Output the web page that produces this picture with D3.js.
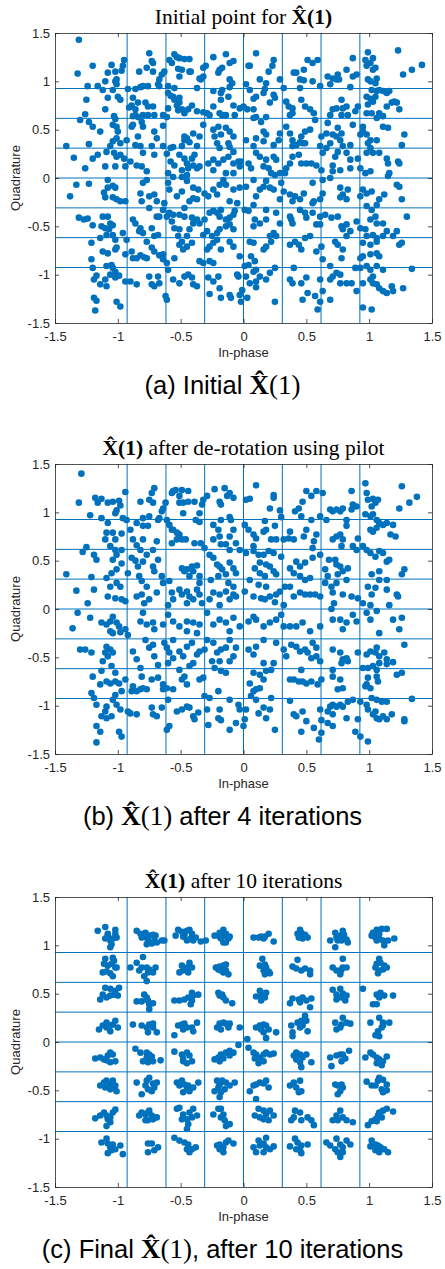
<!DOCTYPE html>
<html><head><meta charset="utf-8">
<script src="https://cdn.jsdelivr.net/npm/d3@7"></script>
<style>body{margin:0;background:#fff}svg{display:block}</style>
</head><body>
<svg id="fig" width="445" height="1269"></svg>
<script>
// Axis ticks and 64-QAM decision boundaries
const ticks = [-1.5, -1, -0.5, 0, 0.5, 1, 1.5];
const boundaries = [-0.926, -0.617, -0.309, 0, 0.309, 0.617, 0.926];

// (a) initial estimate: [in-phase, quadrature]
const pointsInitial = [
[-1.31,1.43],[-1.32,1.08],[-1.20,1.16],[-1.24,0.95],[-1.16,0.95],[-1.25,0.81],[-1.30,0.60],[-1.26,0.66],[-1.41,0.33],[-1.35,0.21],[-1.26,0.10],[-1.23,0.35],[-1.23,0.58],[-1.20,0.53],[-1.20,0.20],[-1.16,0.24],[-1.14,0.48],[-1.12,0.91],[-1.10,1.00],[-1.08,1.09],[-1.05,1.17],[-1.02,1.10],[-1.08,0.83],[-1.10,0.71],[-1.04,0.91],[-1.02,1.00],[-1.01,1.02],[-1.01,0.97],[-1.00,0.84],[-0.98,0.81],[-0.96,1.16],[-0.95,1.22],[-0.97,1.11],[-1.03,0.64],[-1.02,0.61],[-1.01,0.53],[-1.00,0.48],[-1.04,0.55],[-1.01,0.41],[-1.04,0.38],[-0.98,0.36],[-0.93,0.39],[-1.06,0.33],[-1.09,0.27],[-1.03,0.26],[-1.01,0.22],[-0.98,0.24],[-1.10,0.12],[-1.02,0.12],[-0.95,0.20],[-0.94,0.12],[-0.92,0.92],[-0.88,0.83],[-0.89,0.75],[-0.91,0.73],[-0.86,0.71],[-0.84,0.78],[-0.83,1.10],[-0.86,0.92],[-0.80,0.95],[-0.82,0.94],[-0.77,1.14],[-0.76,0.95],[-0.72,1.10],[-0.72,1.19],[-0.75,1.29],[-0.73,1.21],[-0.88,0.64],[-0.86,0.65],[-0.84,0.63],[-0.88,0.55],[-0.89,0.53],[-0.80,0.65],[-0.81,0.58],[-0.80,0.53],[-0.76,0.65],[-0.72,0.74],[-0.76,0.74],[-0.78,0.78],[-0.84,0.43],[-0.82,0.33],[-0.86,0.34],[-0.80,0.26],[-0.90,0.17],[-0.85,0.13],[-0.81,0.12],[-0.77,0.07],[-0.71,0.24],[-0.73,0.33],[-0.69,0.41],[-0.71,0.48],[-0.71,0.65],[-0.67,0.95],[-0.67,1.02],[-0.65,1.07],[-0.68,0.97],[-0.64,0.65],[-0.64,0.54],[-0.61,0.63],[-0.60,0.72],[-0.64,0.33],[-0.58,0.31],[-0.56,0.32],[-0.61,0.25],[-0.58,0.17],[-0.55,0.13],[-0.60,0.05],[-0.63,1.10],[-0.59,1.22],[-0.55,1.28],[-0.53,1.25],[-0.51,1.24],[-0.57,1.19],[-0.52,1.13],[-0.51,1.05],[-0.49,1.12],[-0.47,1.23],[-0.43,1.23],[-0.43,1.10],[-0.42,1.10],[-0.60,0.88],[-0.58,0.85],[-0.56,0.84],[-0.55,0.81],[-0.51,0.83],[-0.51,0.78],[-0.53,0.75],[-0.52,0.70],[-0.49,0.71],[-0.47,0.67],[-0.44,0.71],[-0.41,0.75],[-0.55,0.93],[-0.60,0.95],[-0.49,0.33],[-0.47,0.39],[-0.45,0.41],[-0.47,0.43],[-0.40,0.46],[-0.43,0.37],[-0.51,0.24],[-0.47,0.20],[-0.45,0.15],[-0.41,0.20],[-0.39,0.24],[-0.37,0.33],[-0.35,0.43],[-0.44,0.10],[-0.40,0.13],[-0.37,0.10],[-0.35,0.12],[-0.49,0.08],[-0.56,0.01],[-0.49,0.01],[-0.45,0.03],[-0.37,0.93],[-0.34,1.02],[-0.32,1.14],[-0.32,1.05],[-0.30,1.16],[-0.35,1.03],[-0.37,0.69],[-0.32,0.68],[-0.29,0.67],[-0.32,0.55],[-0.27,0.65],[-0.24,1.25],[-0.19,1.12],[-0.20,1.09],[-0.17,1.14],[-0.14,1.28],[-0.11,1.19],[-0.08,1.21],[-0.24,0.90],[-0.18,0.88],[-0.17,0.91],[-0.24,0.74],[-0.19,0.67],[-0.17,0.65],[-0.14,0.65],[-0.18,0.81],[-0.12,0.84],[-0.11,0.94],[-0.09,0.98],[-0.11,1.02],[-0.08,0.75],[-0.07,0.65],[-0.03,0.72],[-0.24,0.50],[-0.20,0.53],[-0.18,0.45],[-0.14,0.52],[-0.11,0.48],[-0.08,0.43],[-0.23,0.43],[-0.21,0.36],[-0.19,0.31],[-0.12,0.36],[-0.11,0.32],[-0.08,0.27],[-0.24,0.19],[-0.20,0.15],[-0.16,0.19],[-0.12,0.22],[-0.28,0.15],[-0.24,0.08],[-0.08,0.15],[-0.04,0.17],[-0.02,0.17],[-0.14,0.05],[-0.08,0.05],[-0.03,0.12],[0.02,0.97],[0.05,0.91],[0.08,0.82],[0.10,0.84],[0.10,1.29],[0.04,1.16],[0.05,1.16],[0.13,1.02],[0.16,0.88],[0.18,0.98],[0.20,1.10],[0.23,1.16],[0.24,1.22],[0.17,0.92],[0.24,0.86],[0.25,0.83],[0.21,0.78],[0.00,0.74],[0.03,0.71],[0.08,0.71],[0.10,0.63],[0.08,0.62],[0.14,0.58],[0.18,0.63],[0.16,0.48],[0.18,0.45],[0.10,0.41],[0.16,0.38],[0.08,0.33],[0.02,0.39],[0.10,0.26],[0.13,0.22],[0.18,0.19],[0.16,0.12],[0.20,0.10],[0.24,0.22],[0.26,0.19],[0.22,0.05],[0.25,0.03],[0.29,0.05],[0.04,0.15],[0.06,0.10],[0.28,0.39],[0.24,0.34],[0.29,0.46],[0.29,1.02],[0.32,0.93],[0.34,0.79],[0.36,0.74],[0.39,0.72],[0.40,1.09],[0.42,1.09],[0.45,1.02],[0.48,1.12],[0.48,1.01],[0.51,1.22],[0.55,1.19],[0.59,1.22],[0.55,1.00],[0.61,0.95],[0.37,0.65],[0.39,0.67],[0.45,0.93],[0.46,0.81],[0.49,0.74],[0.53,0.71],[0.56,0.67],[0.57,0.60],[0.34,0.53],[0.37,0.46],[0.39,0.39],[0.39,0.33],[0.42,0.34],[0.45,0.37],[0.47,0.36],[0.49,0.36],[0.46,0.43],[0.49,0.48],[0.53,0.50],[0.44,0.24],[0.46,0.15],[0.50,0.15],[0.54,0.15],[0.58,0.13],[0.39,0.22],[0.37,0.15],[0.34,0.10],[0.33,0.05],[0.62,0.08],[0.63,0.26],[0.62,0.43],[0.61,0.33],[0.66,0.31],[0.69,0.36],[0.67,0.57],[0.66,0.46],[0.71,0.45],[0.74,0.43],[0.75,0.52],[0.77,0.39],[0.78,0.46],[0.79,0.33],[0.75,0.27],[0.82,0.26],[0.85,0.34],[0.69,0.65],[0.71,0.71],[0.74,0.72],[0.78,0.65],[0.79,0.72],[0.78,0.81],[0.82,0.74],[0.83,0.65],[0.87,0.55],[0.67,1.05],[0.69,0.97],[0.71,1.03],[0.74,1.02],[0.75,1.07],[0.76,1.02],[0.82,1.12],[0.85,0.94],[0.87,1.24],[0.87,1.05],[0.90,1.07],[0.91,0.74],[0.89,0.69],[0.95,0.53],[0.95,0.48],[0.93,0.45],[0.98,0.45],[0.99,0.36],[1.01,0.31],[0.98,0.26],[1.03,0.26],[1.08,0.26],[1.01,0.39],[1.06,0.39],[0.97,1.22],[0.99,1.30],[0.98,1.16],[1.01,1.19],[1.03,1.24],[1.03,1.12],[1.05,1.14],[0.99,1.02],[1.01,1.00],[1.05,0.98],[1.06,1.03],[0.98,0.84],[1.01,0.82],[1.02,0.91],[1.06,0.90],[1.08,0.91],[1.11,0.90],[1.14,0.88],[1.16,0.90],[1.05,0.84],[1.03,0.79],[0.99,0.76],[0.98,0.67],[1.02,0.67],[1.06,0.62],[1.11,0.64],[1.14,0.74],[1.08,0.67],[1.11,0.53],[1.15,0.52],[1.18,0.78],[1.22,0.78],[1.24,0.71],[1.20,0.79],[1.23,1.32],[1.27,1.07],[1.34,1.12],[1.42,1.17],[1.28,0.45],[1.26,0.34],[1.23,0.17],[1.24,0.15],[1.14,0.20],[1.15,0.15],[1.01,0.07],[0.93,0.10],[0.97,0.05],[0.85,0.10],[0.77,0.08],[0.71,0.13],[0.71,0.07],[0.91,0.20],[0.85,0.19],[0.73,0.22],[1.16,0.05],
[-1.38,-0.19],[-1.33,-0.07],[-1.23,-0.06],[-1.31,-0.41],[-1.27,-0.43],[-1.24,-0.42],[-1.20,-0.49],[-1.21,-0.67],[-1.21,-0.84],[-1.20,-0.93],[-1.19,-1.05],[-1.17,-1.01],[-1.19,-1.24],[-1.17,-1.27],[-1.18,-1.37],[-1.14,-0.62],[-1.13,-0.50],[-1.12,-0.40],[-1.10,-0.52],[-1.10,-0.20],[-1.11,-0.15],[-1.08,-0.10],[-1.08,-0.02],[-1.04,-0.08],[-1.02,-0.10],[-1.04,-0.20],[-1.01,-0.22],[-0.98,-0.24],[-0.94,-0.24],[-1.08,-0.40],[-1.06,-0.47],[-1.04,-0.49],[-1.07,-0.53],[-1.09,-0.59],[-1.04,-0.59],[-1.02,-0.64],[-1.12,-0.76],[-1.08,-0.78],[-1.02,-0.74],[-1.01,-0.72],[-1.09,-0.91],[-1.05,-0.90],[-1.04,-0.93],[-1.02,-0.97],[-1.06,-1.00],[-1.10,-1.05],[-1.14,-1.10],[-1.09,-1.12],[-1.02,-1.03],[-0.99,-1.01],[-1.01,-1.28],[-0.98,-1.33],[-0.94,-0.79],[-0.94,-1.07],[-0.90,-1.07],[-0.85,-1.10],[-0.96,-0.57],[-0.93,-0.64],[-0.89,-0.76],[-0.88,-0.83],[-0.85,-0.83],[-0.82,-0.80],[-0.79,-0.82],[-0.77,-0.83],[-0.86,-0.47],[-0.83,-0.55],[-0.82,-0.52],[-0.80,-0.57],[-0.77,-0.66],[-0.88,-0.43],[-0.81,-0.24],[-0.82,-0.16],[-0.80,-0.05],[-0.77,-0.02],[-0.75,-0.19],[-0.71,-0.17],[-0.69,-0.24],[-0.75,-0.31],[-0.69,-0.40],[-0.67,-0.40],[-0.73,-0.52],[-0.71,-0.60],[-0.68,-0.59],[-0.73,-0.72],[-0.71,-0.76],[-0.67,-0.80],[-0.64,-0.84],[-0.61,-0.88],[-0.60,-0.95],[-0.64,-0.79],[-0.75,-1.02],[-0.73,-1.10],[-0.71,-1.12],[-0.68,-1.02],[-0.67,-1.09],[-0.62,-1.22],[-0.61,-1.26],[-0.63,-0.26],[-0.64,-0.33],[-0.61,-0.40],[-0.59,-0.36],[-0.56,-0.38],[-0.57,-0.45],[-0.55,-0.52],[-0.51,-0.53],[-0.52,-0.60],[-0.49,-0.66],[-0.51,-0.69],[-0.55,-0.83],[-0.48,-0.74],[-0.45,-0.71],[-0.41,-0.67],[-0.45,-0.60],[-0.43,-0.53],[-0.40,-0.47],[-0.41,-0.41],[-0.37,-0.43],[-0.35,-0.47],[-0.47,-0.40],[-0.51,-0.38],[-0.47,-0.31],[-0.43,-0.24],[-0.40,-0.21],[-0.37,-0.22],[-0.36,-0.12],[-0.40,-0.10],[-0.45,-0.03],[-0.49,-0.14],[-0.53,-0.19],[-0.59,-0.12],[-0.60,-0.05],[-0.56,-1.05],[-0.51,-1.09],[-0.47,-1.02],[-0.44,-1.00],[-0.41,-1.03],[-0.40,-1.10],[-0.37,-1.12],[-0.35,-0.86],[-0.32,-0.88],[-0.29,-0.74],[-0.27,-0.71],[-0.24,-0.67],[-0.32,-0.59],[-0.29,-0.55],[-0.25,-0.60],[-0.21,-0.57],[-0.19,-0.53],[-0.21,-0.64],[-0.31,-0.43],[-0.27,-0.36],[-0.24,-0.34],[-0.21,-0.36],[-0.19,-0.40],[-0.18,-0.33],[-0.14,-0.43],[-0.11,-0.41],[-0.08,-0.38],[-0.07,-0.34],[-0.05,-0.26],[-0.11,-0.24],[-0.14,-0.50],[-0.11,-0.48],[-0.08,-0.53],[-0.11,-0.66],[-0.08,-0.71],[-0.18,-0.74],[-0.21,-0.17],[-0.24,-0.12],[-0.28,-0.19],[-0.31,-0.16],[-0.19,-0.07],[-0.14,-0.07],[-0.08,-0.12],[-0.03,-0.10],[-0.16,-0.02],[-0.27,-0.86],[-0.24,-0.88],[-0.28,-1.03],[-0.24,-1.07],[-0.20,-1.02],[-0.19,-1.14],[-0.27,-1.20],[-0.18,-1.24],[-0.11,-1.21],[-0.10,-1.24],[-0.05,-1.00],[-0.04,-1.02],[-0.03,-1.21],[-0.02,-1.28],[-0.01,-1.16],[-0.03,-0.81],[0.01,-0.91],[0.04,-0.90],[0.05,-0.66],[0.08,-0.67],[0.06,-0.81],[0.09,-0.86],[0.10,-0.95],[0.08,-0.97],[0.02,-1.02],[0.05,-1.09],[0.10,-1.07],[0.13,-1.02],[0.10,-1.13],[0.03,-1.24],[0.18,-1.05],[0.21,-0.98],[0.25,-0.93],[0.25,-1.28],[0.16,-0.74],[0.18,-0.71],[0.22,-0.66],[0.24,-0.57],[0.21,-0.60],[0.26,-0.60],[0.13,-0.47],[0.09,-0.43],[0.04,-0.34],[0.01,-0.33],[0.08,-0.28],[0.10,-0.19],[0.13,-0.12],[0.18,-0.03],[0.16,-0.09],[0.21,-0.10],[0.24,-0.12],[0.30,-0.05],[0.32,-0.14],[0.29,-0.22],[0.18,-0.33],[0.26,-0.36],[0.18,-0.43],[0.08,-0.50],[0.29,-0.47],[0.08,-0.02],[0.02,-0.09],[0.37,-0.17],[0.39,-0.24],[0.41,-0.19],[0.45,-0.22],[0.48,-0.16],[0.38,-0.43],[0.39,-0.47],[0.37,-0.40],[0.45,-0.33],[0.49,-0.36],[0.50,-0.41],[0.55,-0.26],[0.56,-0.24],[0.61,-0.22],[0.63,-0.16],[0.55,-0.05],[0.69,0.00],[0.63,-0.02],[0.37,-0.69],[0.41,-0.66],[0.44,-0.69],[0.46,-0.74],[0.49,-0.62],[0.53,-0.60],[0.58,-0.48],[0.61,-0.48],[0.55,-0.36],[0.61,-0.40],[0.65,-0.38],[0.70,-0.41],[0.40,-0.93],[0.37,-1.05],[0.39,-1.09],[0.46,-1.09],[0.50,-1.03],[0.51,-1.19],[0.47,-1.26],[0.57,-1.22],[0.59,-1.36],[0.61,-1.28],[0.63,-1.17],[0.61,-1.05],[0.62,-0.71],[0.58,-0.76],[0.63,-0.84],[0.69,-0.91],[0.69,-1.26],[0.69,-1.05],[0.71,-1.02],[0.74,-0.98],[0.77,-1.00],[0.77,-1.09],[0.82,-1.09],[0.86,-1.09],[0.90,-1.17],[0.89,-0.93],[0.93,-0.93],[0.78,-0.83],[0.79,-0.74],[0.75,-0.69],[0.73,-0.66],[0.82,-0.60],[0.85,-0.55],[0.79,-0.53],[0.78,-0.50],[0.82,-0.48],[0.75,-0.40],[0.77,-0.10],[0.79,-0.17],[0.82,-0.22],[0.77,-0.20],[0.83,-0.12],[0.95,-0.12],[0.93,-0.19],[0.98,-0.16],[1.02,-0.14],[1.08,-0.22],[1.12,-0.17],[1.15,0.02],[1.22,-0.07],[1.24,-0.09],[1.26,-0.22],[0.98,-0.29],[1.02,-0.33],[1.01,-0.43],[1.06,-0.47],[1.11,-0.47],[0.90,-0.45],[0.93,-0.52],[0.97,-0.53],[0.98,-0.60],[1.03,-0.59],[1.06,-0.62],[1.11,-0.60],[1.14,-0.55],[1.22,-0.55],[1.19,-0.60],[1.24,-0.69],[1.26,-0.67],[1.05,-0.40],[1.06,-0.28],[0.95,-0.67],[1.01,-0.69],[1.06,-0.66],[0.93,-0.83],[0.95,-0.81],[1.01,-0.79],[1.06,-0.78],[1.08,-0.81],[0.98,-0.91],[1.01,-0.95],[1.06,-0.91],[1.11,-0.95],[0.95,-1.09],[1.01,-1.05],[1.03,-1.09],[1.06,-1.10],[1.08,-1.14],[1.11,-1.17],[1.14,-1.19],[1.18,-1.12],[1.19,-1.17],[1.03,-1.02],[0.95,-1.34],[1.02,-1.36],[1.27,-1.14],[1.34,-0.94],[1.30,-0.40]
];

// (b) after de-rotation with the pilot
const pointsDerotated = [
[-1.29,1.40],[-1.31,1.10],[-1.18,1.15],[-1.16,1.10],[-1.22,0.97],[-1.25,0.64],[-1.28,0.59],[-1.41,0.36],[-1.33,0.19],[-1.24,0.06],[-1.21,0.33],[-1.19,0.56],[-1.17,0.51],[-1.19,0.20],[-1.13,1.14],[-1.13,0.94],[-1.08,1.10],[-1.08,0.89],[-1.09,0.79],[-1.10,0.72],[-1.04,1.11],[-1.02,0.99],[-1.01,1.02],[-0.99,1.12],[-0.98,1.07],[-1.04,0.79],[-1.02,0.72],[-0.97,0.78],[-0.94,1.21],[-0.96,0.94],[-1.06,0.65],[-1.02,0.61],[-1.01,0.56],[-1.04,0.51],[-0.97,0.61],[-1.01,0.41],[-1.05,0.37],[-1.09,0.32],[-0.97,0.47],[-1.01,0.27],[-0.98,0.23],[-1.06,0.23],[-1.02,0.11],[-1.08,0.13],[-0.97,0.10],[-0.94,0.08],[-0.92,0.37],[-0.93,0.92],[-0.90,0.82],[-0.88,0.72],[-0.85,0.89],[-0.85,0.66],[-0.89,0.53],[-0.86,0.50],[-0.82,0.61],[-0.80,0.72],[-0.82,1.11],[-0.80,0.94],[-0.76,0.86],[-0.75,0.96],[-0.75,1.13],[-0.73,1.20],[-0.71,1.25],[-0.72,1.10],[-0.80,0.86],[-0.77,0.56],[-0.80,0.49],[-0.84,0.44],[-0.83,0.34],[-0.81,0.29],[-0.77,0.23],[-0.81,0.15],[-0.79,0.06],[-0.75,0.10],[-0.85,0.13],[-0.72,0.44],[-0.71,0.39],[-0.72,0.61],[-0.69,0.70],[-0.68,0.92],[-0.67,0.94],[-0.65,1.01],[-0.64,1.04],[-0.68,0.51],[-0.65,0.34],[-0.64,0.27],[-0.69,0.17],[-0.59,0.29],[-0.57,0.17],[-0.56,0.10],[-0.60,0.04],[-0.61,0.92],[-0.59,0.87],[-0.57,0.82],[-0.56,0.82],[-0.53,0.79],[-0.51,0.77],[-0.49,0.72],[-0.57,0.68],[-0.53,0.72],[-0.62,1.10],[-0.57,1.20],[-0.56,1.22],[-0.54,1.23],[-0.51,1.17],[-0.51,1.10],[-0.49,1.23],[-0.48,1.10],[-0.44,1.22],[-0.44,1.11],[-0.39,1.11],[-0.48,0.99],[-0.46,0.72],[-0.49,0.42],[-0.47,0.39],[-0.45,0.41],[-0.41,0.44],[-0.37,0.45],[-0.40,0.39],[-0.43,0.34],[-0.51,0.20],[-0.45,0.18],[-0.43,0.13],[-0.37,0.20],[-0.35,0.15],[-0.40,0.10],[-0.45,0.06],[-0.49,0.15],[-0.35,0.34],[-0.35,0.27],[-0.33,0.06],[-0.38,0.92],[-0.35,0.99],[-0.33,1.08],[-0.32,1.13],[-0.29,1.17],[-0.35,0.90],[-0.39,0.68],[-0.34,0.68],[-0.31,0.63],[-0.27,0.56],[-0.23,1.24],[-0.19,1.11],[-0.18,1.08],[-0.15,1.25],[-0.11,1.20],[-0.08,1.15],[-0.13,1.17],[-0.24,0.87],[-0.20,0.82],[-0.18,0.92],[-0.11,0.95],[-0.10,0.92],[-0.19,0.75],[-0.24,0.72],[-0.18,0.67],[-0.14,0.67],[-0.11,0.75],[-0.08,0.82],[-0.06,0.68],[-0.11,0.61],[-0.03,0.61],[-0.26,0.30],[-0.24,0.53],[-0.21,0.46],[-0.19,0.44],[-0.17,0.41],[-0.14,0.36],[-0.11,0.48],[-0.08,0.42],[-0.06,0.37],[-0.20,0.34],[-0.12,0.27],[-0.08,0.23],[-0.24,0.17],[-0.19,0.15],[-0.14,0.18],[-0.08,0.15],[-0.06,0.13],[-0.11,0.10],[-0.19,0.04],[-0.27,0.10],[0.01,0.87],[0.04,0.82],[0.08,0.77],[0.10,0.73],[0.02,1.13],[0.05,1.14],[0.10,1.28],[0.17,0.91],[0.21,1.04],[0.24,1.18],[0.24,1.15],[0.25,0.86],[0.29,1.02],[0.30,0.95],[0.16,0.80],[0.18,0.82],[0.22,0.72],[0.26,0.72],[0.32,0.72],[0.02,0.58],[0.08,0.65],[0.08,0.60],[0.12,0.56],[0.16,0.56],[0.20,0.60],[0.24,0.58],[0.30,0.54],[0.09,0.42],[0.13,0.48],[0.18,0.46],[0.21,0.44],[0.24,0.39],[0.13,0.37],[0.17,0.34],[0.26,0.36],[0.05,0.30],[0.12,0.25],[0.18,0.23],[0.08,0.13],[0.14,0.11],[0.17,0.10],[0.21,0.13],[0.26,0.15],[0.29,0.18],[0.25,0.07],[0.32,0.04],[0.01,0.18],[0.37,0.80],[0.36,0.73],[0.40,0.72],[0.41,1.01],[0.44,1.04],[0.47,1.11],[0.50,1.22],[0.54,1.17],[0.58,1.22],[0.63,1.20],[0.46,0.96],[0.50,0.82],[0.54,0.92],[0.61,0.96],[0.58,0.77],[0.56,0.70],[0.48,0.75],[0.55,0.63],[0.37,0.42],[0.40,0.37],[0.45,0.34],[0.49,0.30],[0.53,0.32],[0.42,0.49],[0.45,0.44],[0.49,0.48],[0.55,0.53],[0.61,0.56],[0.37,0.23],[0.40,0.13],[0.45,0.17],[0.49,0.15],[0.53,0.15],[0.57,0.15],[0.61,0.13],[0.33,0.23],[0.65,0.41],[0.67,0.34],[0.65,0.27],[0.70,0.23],[0.68,0.51],[0.73,0.51],[0.74,0.46],[0.77,0.44],[0.79,0.39],[0.83,0.42],[0.75,0.36],[0.82,0.30],[0.74,0.27],[0.79,0.15],[0.71,0.17],[0.86,0.13],[0.72,0.06],[0.70,0.00],[0.91,0.11],[0.95,0.06],[0.66,0.92],[0.69,1.03],[0.71,1.01],[0.74,1.03],[0.77,1.01],[0.79,1.04],[0.86,1.03],[0.87,1.08],[0.86,1.22],[0.90,1.06],[0.82,0.92],[0.71,0.72],[0.74,0.75],[0.77,0.77],[0.79,0.72],[0.78,0.65],[0.82,0.86],[0.87,0.65],[0.90,0.61],[0.91,0.73],[0.95,0.65],[0.97,1.30],[0.98,1.20],[0.99,1.13],[1.02,1.06],[1.03,1.14],[1.05,1.10],[1.07,1.13],[0.97,0.98],[1.01,0.96],[1.03,0.98],[1.06,0.92],[1.08,0.89],[1.11,0.87],[1.01,0.82],[1.03,0.80],[1.06,0.84],[1.14,0.89],[1.19,0.87],[0.98,0.61],[1.01,0.58],[1.05,0.54],[1.08,0.60],[1.11,0.58],[1.14,0.49],[1.16,0.51],[1.17,0.77],[1.21,0.75],[1.26,1.27],[1.24,1.04],[1.32,1.10],[1.38,1.16],[1.26,0.36],[1.28,0.41],[1.22,0.15],[1.23,0.13],[1.14,0.20],[1.14,0.30],[1.08,0.39],[1.02,0.36],[0.99,0.23],[1.05,0.22],[1.08,0.30],[1.01,0.04],[1.16,0.04],[1.02,0.15],
[-1.36,-0.20],[-1.32,-0.04],[-1.22,-0.09],[-1.13,-0.14],[-1.09,-0.16],[-1.06,-0.13],[-1.04,-0.08],[-1.01,-0.14],[-0.99,-0.18],[-1.06,-0.23],[-1.04,-0.25],[-0.98,-0.24],[-0.94,-0.21],[-0.92,-0.27],[-0.82,-0.13],[-0.80,-0.04],[-0.77,-0.16],[-0.72,-0.14],[-0.71,-0.21],[-0.64,-0.16],[-0.60,-0.06],[-0.56,-0.13],[-0.51,-0.18],[-0.45,-0.13],[-0.40,-0.14],[-0.35,-0.16],[-0.45,-0.23],[-0.37,-0.25],[-0.29,-0.04],[-0.24,-0.16],[-0.19,-0.11],[-0.14,-0.14],[-0.11,-0.23],[-0.08,-0.09],[-0.03,-0.18],[0.04,-0.13],[0.08,-0.08],[0.10,-0.11],[0.16,-0.18],[0.21,-0.14],[0.26,-0.11],[0.30,-0.06],[0.32,-0.18],[0.37,-0.18],[0.42,-0.18],[0.47,-0.14],[0.53,-0.23],[0.61,-0.18],[0.71,-0.11],[0.77,-0.11],[0.82,-0.14],[0.79,-0.21],[0.87,-0.06],[0.90,-0.13],[0.98,-0.04],[1.01,-0.11],[1.06,-0.02],[1.08,-0.25],[1.19,-0.11],[1.26,-0.09],[1.24,-0.21],
[-1.30,-0.42],[-1.26,-0.42],[-1.21,-0.45],[-1.20,-0.70],[-1.21,-0.87],[-1.19,-0.92],[-1.17,-0.99],[-1.17,-1.21],[-1.14,-1.27],[-1.17,-1.38],[-1.14,-0.78],[-1.13,-0.64],[-1.12,-0.54],[-1.10,-0.45],[-1.09,-0.39],[-1.06,-0.42],[-1.08,-0.49],[-1.04,-0.45],[-1.05,-0.59],[-1.02,-0.66],[-1.09,-0.75],[-1.06,-0.77],[-1.02,-0.75],[-0.99,-0.77],[-1.02,-0.89],[-1.04,-0.94],[-1.01,-0.99],[-1.09,-1.01],[-1.10,-1.06],[-1.13,-1.11],[-1.09,-1.13],[-1.05,-1.11],[-0.98,-1.04],[-0.99,-1.27],[-0.97,-1.32],[-0.97,-0.85],[-0.94,-0.73],[-0.92,-1.06],[-0.90,-1.08],[-0.85,-1.09],[-0.88,-0.44],[-0.85,-0.52],[-0.82,-0.61],[-0.81,-0.70],[-0.88,-0.80],[-0.85,-0.85],[-0.82,-0.83],[-0.80,-0.82],[-0.77,-0.83],[-0.89,-0.85],[-0.78,-0.32],[-0.75,-0.40],[-0.72,-0.37],[-0.71,-0.49],[-0.68,-0.58],[-0.73,-0.73],[-0.68,-0.71],[-0.64,-0.78],[-0.61,-0.82],[-0.64,-0.83],[-0.60,-0.94],[-0.56,-0.83],[-0.73,-1.02],[-0.72,-1.09],[-0.69,-1.11],[-0.65,-1.02],[-0.61,-1.25],[-0.59,-1.21],[-0.63,-0.35],[-0.61,-0.40],[-0.59,-0.45],[-0.60,-0.56],[-0.56,-0.51],[-0.51,-0.44],[-0.48,-0.49],[-0.51,-0.63],[-0.49,-0.73],[-0.47,-0.70],[-0.45,-0.78],[-0.43,-0.59],[-0.40,-0.56],[-0.37,-0.47],[-0.35,-0.44],[-0.45,-0.39],[-0.41,-0.35],[-0.56,-0.32],[-0.53,-1.06],[-0.49,-1.04],[-0.45,-1.01],[-0.43,-1.02],[-0.40,-1.11],[-0.39,-1.14],[-0.36,-1.07],[-0.35,-0.73],[-0.32,-0.71],[-0.31,-0.90],[-0.27,-0.92],[-0.29,-1.04],[-0.28,-1.20],[-0.25,-0.54],[-0.23,-0.61],[-0.19,-0.54],[-0.18,-0.64],[-0.14,-0.66],[-0.11,-0.54],[-0.08,-0.49],[-0.06,-0.40],[-0.14,-0.40],[-0.18,-0.42],[-0.21,-0.45],[-0.24,-0.35],[-0.31,-0.42],[-0.29,-0.32],[-0.11,-0.32],[-0.20,-0.85],[-0.11,-0.94],[-0.19,-1.04],[-0.20,-1.13],[-0.18,-1.15],[-0.11,-1.25],[-0.06,-1.18],[-0.04,-0.99],[-0.03,-1.04],[0.00,-1.21],[0.01,-1.14],[0.02,-1.04],[0.05,-0.77],[0.08,-0.85],[0.06,-0.90],[0.10,-0.83],[0.13,-0.82],[0.16,-0.73],[0.10,-0.94],[0.12,-1.08],[0.16,-1.02],[0.18,-1.13],[0.21,-1.04],[0.22,-0.92],[0.25,-1.25],[0.08,-0.66],[0.13,-0.68],[0.18,-0.64],[0.24,-0.56],[0.22,-0.63],[0.16,-0.56],[0.08,-0.47],[0.04,-0.42],[0.10,-0.39],[0.16,-0.32],[0.26,-0.35],[0.32,-0.42],[0.34,-0.49],[0.38,-0.37],[0.42,-0.39],[0.45,-0.44],[0.49,-0.42],[0.51,-0.45],[0.55,-0.35],[0.58,-0.40],[0.54,-0.51],[0.58,-0.49],[0.61,-0.54],[0.71,-0.42],[0.77,-0.45],[0.79,-0.52],[0.83,-0.54],[0.78,-0.56],[0.82,-0.51],[0.91,-0.45],[0.37,-0.73],[0.40,-0.73],[0.44,-0.75],[0.46,-0.63],[0.47,-0.75],[0.50,-0.77],[0.54,-0.75],[0.59,-0.78],[0.62,-0.73],[0.71,-0.63],[0.71,-0.70],[0.77,-0.73],[0.79,-0.82],[0.75,-0.83],[0.37,-0.95],[0.40,-1.09],[0.42,-1.11],[0.47,-1.06],[0.46,-1.27],[0.50,-1.16],[0.56,-1.23],[0.61,-1.04],[0.62,-1.15],[0.62,-1.28],[0.60,-1.35],[0.67,-1.06],[0.69,-1.01],[0.71,-0.99],[0.74,-1.01],[0.77,-0.99],[0.79,-1.01],[0.71,-1.09],[0.67,-1.18],[0.71,-1.21],[0.82,-1.13],[0.83,-0.96],[0.87,-0.94],[0.93,-0.96],[0.89,-1.27],[0.91,-1.14],[0.93,-1.32],[0.99,-1.37],[0.97,-0.80],[0.98,-0.78],[1.01,-0.82],[1.02,-0.92],[1.06,-0.94],[1.10,-0.96],[1.14,-0.96],[0.95,-0.61],[0.99,-0.61],[1.03,-0.59],[1.06,-0.63],[1.08,-0.56],[1.14,-0.57],[1.19,-0.55],[0.98,-0.47],[1.01,-0.44],[1.05,-0.45],[1.06,-0.40],[1.08,-0.49],[1.12,-0.45],[1.14,-0.52],[1.06,-0.70],[1.07,-0.75],[0.99,-0.71],[0.98,-0.99],[0.99,-1.04],[1.03,-1.09],[1.06,-1.13],[1.08,-1.14],[1.11,-1.11],[1.14,-1.14],[1.18,-1.09],[1.05,-1.06],[1.22,-0.68],[1.26,-0.66],[1.28,-0.37],[1.28,-1.14],[1.28,-1.16],[1.34,-0.93]
];

// (c) after 10 iterations
const pointsFinal = [
[-1.16,1.15],[-1.10,1.19],[-1.08,1.12],[-1.10,1.07],[-1.06,1.05],[-1.02,1.16],[-1.02,1.12],[-1.01,1.08],[-1.05,1.01],[-1.06,0.98],[-1.04,1.07],[-1.08,1.10],
[-0.85,1.15],[-0.82,1.12],[-0.79,1.11],[-0.77,1.08],[-0.75,1.10],[-0.72,1.11],[-0.70,1.10],[-0.76,1.05],[-0.77,1.01],[-0.73,1.02],[-0.69,1.03],[-0.65,1.05],[-0.63,1.05],[-0.81,1.08],[-0.78,1.13],[-0.71,1.05],
[-0.52,1.16],[-0.54,1.10],[-0.49,1.14],[-0.45,1.15],[-0.43,1.16],[-0.41,1.12],[-0.48,1.09],[-0.45,1.05],[-0.40,1.05],[-0.42,1.07],[-0.47,1.10],[-0.34,1.04],[-0.30,1.05],[-0.38,1.08],
[-0.23,1.10],[-0.19,1.13],[-0.16,1.16],[-0.14,1.12],[-0.11,1.09],[-0.12,1.07],[-0.18,1.07],[-0.16,1.03],[-0.14,1.03],[-0.19,1.09],[-0.15,1.10],
[0.08,1.08],[0.12,1.08],[0.14,1.09],[0.17,1.09],[0.20,1.12],[0.24,1.04],[0.16,1.07],
[0.45,1.16],[0.43,1.12],[0.46,1.10],[0.49,1.11],[0.51,1.08],[0.47,1.07],[0.44,1.08],[0.46,1.13],
[0.69,1.05],[0.73,1.13],[0.74,1.08],[0.77,1.10],[0.79,1.15],[0.80,1.11],[0.82,1.06],[0.83,1.03],[0.78,1.05],[0.73,0.98],[0.75,1.05],[0.79,1.08],
[1.02,1.10],[1.03,1.13],[1.06,1.16],[1.10,1.17],[1.14,1.17],[1.08,1.12],[1.05,1.08],[1.08,1.07],[1.11,1.05],[1.12,1.00],[1.15,1.05],[1.20,1.07],[1.06,1.05],
[-1.10,0.86],[-1.04,0.87],[-1.11,0.81],[-1.08,0.79],[-1.05,0.81],[-1.02,0.77],[-1.01,0.77],[-1.09,0.73],[-1.06,0.71],[-1.04,0.68],[-1.12,0.72],[-1.03,0.84],
[-0.90,0.77],[-0.85,0.82],[-0.80,0.88],[-0.81,0.77],[-0.77,0.77],[-0.75,0.75],[-0.72,0.72],[-0.76,0.72],[-0.79,0.68],[-0.77,0.63],[-0.70,0.77],[-0.83,0.74],
[-0.51,0.72],[-0.49,0.79],[-0.45,0.77],[-0.43,0.82],[-0.44,0.72],[-0.41,0.77],[-0.48,0.74],
[-0.22,0.77],[-0.19,0.78],[-0.16,0.79],[-0.14,0.80],[-0.20,0.75],[-0.18,0.74],[-0.14,0.74],[-0.12,0.70],[-0.16,0.72],
[0.15,0.86],[0.13,0.79],[0.17,0.80],[0.18,0.77],[0.16,0.74],[0.20,0.73],[0.21,0.71],[0.17,0.70],
[0.39,0.78],[0.43,0.85],[0.42,0.76],[0.46,0.74],[0.49,0.76],[0.53,0.74],[0.53,0.70],
[0.71,0.77],[0.74,0.74],[0.77,0.72],[0.79,0.77],[0.79,0.86],[0.82,0.77],[0.77,0.70],[0.78,0.75],
[1.08,0.86],[1.06,0.81],[1.09,0.82],[1.12,0.79],[1.14,0.77],[1.05,0.77],[1.08,0.74],[1.07,0.71],[1.11,0.75],
[-1.14,0.44],[-1.12,0.49],[-1.10,0.56],[-1.06,0.48],[-1.03,0.49],[-1.02,0.53],[-1.00,0.48],[-0.99,0.56],[-1.06,0.55],[-1.09,0.46],
[-0.85,0.42],[-0.81,0.42],[-0.79,0.49],[-0.77,0.46],[-0.76,0.43],[-0.75,0.39],[-0.72,0.40],[-0.75,0.34],
[-0.55,0.43],[-0.51,0.43],[-0.47,0.44],[-0.44,0.46],[-0.41,0.51],[-0.40,0.48],[-0.36,0.49],[-0.42,0.39],[-0.41,0.43],
[-0.20,0.51],[-0.19,0.48],[-0.16,0.46],[-0.14,0.43],[-0.09,0.40],[-0.17,0.49],
[0.10,0.47],[0.13,0.53],[0.14,0.48],[0.16,0.50],[0.17,0.46],[0.14,0.43],[0.18,0.51],
[0.37,0.40],[0.39,0.45],[0.44,0.44],[0.47,0.46],[0.50,0.43],[0.54,0.45],[0.45,0.41],[0.53,0.36],
[0.71,0.54],[0.74,0.49],[0.77,0.55],[0.79,0.50],[0.82,0.48],[0.81,0.43],[0.74,0.44],[0.78,0.46],
[0.95,0.55],[1.03,0.39],[1.06,0.39],[1.06,0.49],[1.09,0.51],[1.12,0.48],[1.19,0.48],[1.08,0.46],
[-1.15,0.13],[-1.12,0.17],[-1.09,0.20],[-1.06,0.17],[-1.04,0.18],[-1.02,0.22],[-1.00,0.15],[-1.06,0.11],[-1.09,0.15],
[-0.88,0.18],[-0.81,0.17],[-0.77,0.15],[-0.75,0.18],[-0.72,0.15],[-0.69,0.10],[-0.76,0.10],[-0.72,0.19],
[-0.55,0.07],[-0.52,0.17],[-0.49,0.18],[-0.47,0.19],[-0.45,0.15],[-0.41,0.15],[-0.40,0.11],[-0.37,0.20],[-0.48,0.13],
[-0.21,0.15],[-0.19,0.19],[-0.16,0.20],[-0.14,0.19],[-0.11,0.19],[-0.12,0.15],[-0.18,0.13],[-0.03,0.15],
[0.03,0.03],[0.10,0.15],[0.13,0.17],[0.16,0.18],[0.18,0.17],[0.20,0.13],[0.16,0.10],[0.18,0.04],[0.26,0.10],[0.14,0.13],
[0.38,0.17],[0.39,0.10],[0.39,0.06],[0.43,0.20],[0.46,0.22],[0.49,0.27],[0.50,0.22],[0.51,0.11],[0.45,0.15],[0.47,0.17],
[0.73,0.20],[0.74,0.13],[0.78,0.18],[0.79,0.25],[0.82,0.20],[0.85,0.19],[0.77,0.15],
[1.01,0.20],[1.08,0.25],[1.11,0.20],[1.16,0.20],[1.10,0.15],[1.07,0.11],[1.05,0.07],[1.08,0.06],[1.11,0.17],
[-1.18,-0.17],[-1.14,-0.16],[-1.11,-0.18],[-1.08,-0.14],[-1.06,-0.11],[-1.04,-0.13],[-1.02,-0.20],[-1.06,-0.21],[-1.09,-0.19],
[-0.86,-0.07],[-0.82,-0.11],[-0.77,-0.11],[-0.75,-0.13],[-0.77,-0.16],[-0.80,-0.20],[-0.76,-0.21],[-0.72,-0.20],[-0.66,-0.19],[-0.73,-0.15],
[-0.55,-0.10],[-0.49,-0.13],[-0.48,-0.17],[-0.45,-0.11],[-0.43,-0.14],[-0.41,-0.20],[-0.45,-0.22],[-0.48,-0.20],
[-0.23,-0.18],[-0.20,-0.16],[-0.18,-0.13],[-0.14,-0.11],[-0.11,-0.09],[-0.08,-0.11],[-0.04,-0.03],[-0.19,-0.20],[-0.16,-0.17],[-0.11,-0.14],
[0.04,-0.06],[0.08,-0.11],[0.10,-0.13],[0.13,-0.16],[0.16,-0.13],[0.18,-0.11],[0.21,-0.13],[0.24,-0.12],[0.12,-0.22],[0.16,-0.20],[0.09,-0.17],
[0.40,-0.14],[0.42,-0.11],[0.45,-0.13],[0.47,-0.16],[0.50,-0.13],[0.45,-0.21],[0.46,-0.26],[0.54,-0.21],[0.42,-0.18],
[0.69,-0.16],[0.70,-0.25],[0.74,-0.14],[0.77,-0.13],[0.79,-0.13],[0.81,-0.17],[0.84,-0.09],[0.78,-0.20],
[0.97,-0.16],[1.01,-0.11],[1.03,-0.13],[1.06,-0.16],[1.08,-0.18],[1.11,-0.20],[1.14,-0.15],[1.10,-0.24],[1.06,-0.22],
[-1.14,-0.45],[-1.11,-0.42],[-1.09,-0.40],[-1.06,-0.44],[-1.04,-0.40],[-1.02,-0.45],[-1.01,-0.51],[-1.06,-0.49],[-1.10,-0.47],[-1.03,-0.47],
[-0.85,-0.42],[-0.81,-0.54],[-0.78,-0.45],[-0.77,-0.40],[-0.75,-0.37],[-0.72,-0.43],[-0.71,-0.47],[-0.73,-0.51],[-0.76,-0.49],[-0.69,-0.42],
[-0.53,-0.42],[-0.51,-0.45],[-0.49,-0.40],[-0.47,-0.44],[-0.45,-0.49],[-0.43,-0.51],[-0.40,-0.47],[-0.36,-0.42],[-0.48,-0.52],[-0.44,-0.45],
[-0.21,-0.40],[-0.23,-0.51],[-0.20,-0.47],[-0.19,-0.44],[-0.17,-0.40],[-0.14,-0.42],[-0.11,-0.45],[-0.07,-0.42],[-0.15,-0.49],[-0.19,-0.57],[-0.18,-0.52],
[0.05,-0.51],[0.08,-0.45],[0.10,-0.44],[0.13,-0.42],[0.16,-0.43],[0.18,-0.40],[0.20,-0.47],[0.10,-0.59],
[0.37,-0.45],[0.40,-0.42],[0.42,-0.47],[0.45,-0.40],[0.46,-0.51],[0.44,-0.52],
[0.73,-0.44],[0.75,-0.45],[0.78,-0.44],[0.79,-0.47],[0.77,-0.51],[0.75,-0.54],
[0.98,-0.41],[1.02,-0.45],[1.05,-0.45],[1.07,-0.40],[1.08,-0.37],[1.11,-0.39],[1.14,-0.44],[1.10,-0.49],[1.11,-0.52],[1.14,-0.50],
[-1.18,-0.79],[-1.14,-0.76],[-1.11,-0.73],[-1.09,-0.76],[-1.08,-0.80],[-1.06,-0.83],[-1.09,-0.87],[-1.04,-0.73],[-1.02,-0.70],[-1.06,-0.78],
[-0.83,-0.76],[-0.81,-0.73],[-0.78,-0.75],[-0.76,-0.73],[-0.73,-0.76],[-0.72,-0.80],[-0.76,-0.81],[-0.78,-0.81],[-0.69,-0.78],[-0.75,-0.71],
[-0.53,-0.69],[-0.51,-0.68],[-0.48,-0.75],[-0.45,-0.80],[-0.43,-0.73],[-0.40,-0.69],[-0.37,-0.76],[-0.44,-0.85],[-0.45,-0.90],[-0.41,-0.78],[-0.49,-0.80],
[-0.24,-0.75],[-0.20,-0.69],[-0.18,-0.69],[-0.18,-0.78],[-0.15,-0.81],[-0.14,-0.87],[-0.11,-0.85],[-0.16,-0.75],
[0.09,-0.76],[0.12,-0.69],[0.16,-0.71],[0.18,-0.75],[0.21,-0.71],[0.24,-0.76],[0.16,-0.80],[0.20,-0.81],[0.13,-0.78],
[0.40,-0.78],[0.41,-0.71],[0.45,-0.73],[0.46,-0.81],[0.51,-0.78],[0.54,-0.81],[0.56,-0.86],[0.38,-0.81],
[0.71,-0.81],[0.74,-0.76],[0.77,-0.71],[0.79,-0.78],[0.82,-0.81],[0.87,-0.83],[0.75,-0.81],
[0.99,-0.86],[1.02,-0.82],[1.05,-0.80],[1.07,-0.76],[1.08,-0.73],[1.11,-0.71],[1.14,-0.69],[1.19,-0.72],[1.10,-0.78],[1.06,-0.82],
[-1.13,-1.04],[-1.09,-1.00],[-1.08,-1.05],[-1.06,-1.09],[-1.04,-1.06],[-1.02,-1.11],[-1.08,-1.15],[-0.98,-1.07],[-0.96,-1.16],[-1.05,-1.12],
[-0.76,-1.05],[-0.73,-1.05],[-0.76,-1.14],[-0.71,-1.12],[-0.68,-1.09],
[-0.55,-0.99],[-0.51,-1.02],[-0.47,-1.04],[-0.44,-1.06],[-0.41,-1.11],[-0.38,-1.09],[-0.45,-1.11],[-0.43,-1.14],
[-0.21,-1.07],[-0.19,-1.11],[-0.16,-1.09],[-0.14,-1.04],[-0.12,-1.02],[-0.08,-1.05],[-0.16,-1.14],[-0.19,-1.06],
[0.08,-1.09],[0.12,-1.02],[0.13,-1.07],[0.16,-1.05],[0.18,-0.99],[0.21,-1.11],[0.16,-1.14],[0.24,-1.08],[0.10,-1.14],[0.18,-1.09],
[0.37,-1.08],[0.41,-1.00],[0.43,-1.04],[0.46,-1.07],[0.45,-1.12],[0.46,-1.15],[0.51,-1.06],[0.42,-1.11],
[0.66,-1.04],[0.69,-1.07],[0.73,-1.11],[0.74,-1.00],[0.77,-1.06],[0.79,-1.09],[0.82,-1.02],[0.85,-1.06],[0.77,-1.19],[0.75,-1.14],[0.79,-1.14],
[1.02,-1.02],[1.05,-1.06],[1.07,-1.07],[1.09,-1.09],[1.12,-1.11],[1.15,-1.14],[1.05,-1.12],[1.08,-1.14],[1.01,-1.08]
];

const svg = d3.select("#fig");
const blue = "#0072BD", ink = "#262626";
const sans = "'Liberation Sans', Arial, Helvetica, sans-serif";
const serif = "'Liberation Serif', 'Times New Roman', serif";
const plotLeft = 55, plotRight = 432, plotH = 290;
const pageCenter = 222.5;
const hatX = "X\u0302";

const panels = [
  { top: 33, data: pointsInitial,
    title: [["Initial point for ", false], [hatX + "(1)", true]],
    caption: [["(a) Initial ", "sans"], [hatX, "bold"], ["(1)", "serif"]] },
  { top: 464, data: pointsDerotated,
    title: [[hatX + "(1)", true], [" after de-rotation using pilot", false]],
    caption: [["(b) ", "sans"], [hatX, "bold"], ["(1)", "serif"], [" after 4 iterations", "sans"]] },
  { top: 897, data: pointsFinal,
    title: [[hatX + "(1)", true], [" after 10 iterations", false]],
    caption: [["(c) Final ", "sans"], [hatX, "bold"], ["(1)", "serif"], [", after 10 iterations", "sans"]] }
];

function styleAxis(g) {
  g.attr("font-family", sans).attr("font-size", 13);
  g.selectAll("path.domain").attr("stroke", ink).attr("stroke-width", 0.8);
  g.selectAll(".tick line").attr("stroke", ink).attr("stroke-width", 0.8);
  g.selectAll(".tick text").attr("fill", ink);
}

panels.forEach(p => {
  const x = d3.scaleLinear().domain([-1.5, 1.5]).range([plotLeft, plotRight]);
  const y = d3.scaleLinear().domain([-1.5, 1.5]).range([p.top + plotH, p.top]);
  const g = svg.append("g");
  const cx = (plotLeft + plotRight) / 2;

  // received symbols
  g.append("g").selectAll("circle").data(p.data).join("circle")
    .attr("cx", d => x(d[0])).attr("cy", d => y(d[1]))
    .attr("r", 3.3).attr("fill", blue);

  // decision boundaries
  g.append("g").selectAll("line").data(boundaries).join("line")
    .attr("x1", d => x(d)).attr("x2", d => x(d))
    .attr("y1", y(-1.5)).attr("y2", y(1.5))
    .attr("stroke", blue).attr("stroke-width", 1);
  g.append("g").selectAll("line").data(boundaries).join("line")
    .attr("y1", d => y(d)).attr("y2", d => y(d))
    .attr("x1", x(-1.5)).attr("x2", x(1.5))
    .attr("stroke", blue).attr("stroke-width", 1);

  const fmt = d => String(d);
  g.append("g").attr("transform", `translate(0,${y(-1.5)})`)
    .call(d3.axisBottom(x).tickValues(ticks).tickFormat(fmt).tickSizeInner(-4).tickSizeOuter(0).tickPadding(9))
    .call(styleAxis);
  g.append("g").attr("transform", `translate(0,${y(1.5)})`)
    .call(d3.axisTop(x).tickValues(ticks).tickFormat("").tickSizeInner(-4).tickSizeOuter(0))
    .call(styleAxis);
  g.append("g").attr("transform", `translate(${x(-1.5)},0)`)
    .call(d3.axisLeft(y).tickValues(ticks).tickFormat(fmt).tickSizeInner(-4).tickSizeOuter(0).tickPadding(5))
    .call(styleAxis);
  g.append("g").attr("transform", `translate(${x(1.5)},0)`)
    .call(d3.axisRight(y).tickValues(ticks).tickFormat("").tickSizeInner(-4).tickSizeOuter(0))
    .call(styleAxis);

  // axis labels
  g.append("text").attr("x", cx).attr("y", y(-1.5) + 34)
    .attr("text-anchor", "middle").attr("font-family", sans).attr("font-size", 13)
    .attr("fill", ink).text("In-phase");
  g.append("text").attr("transform", `translate(20,${y(0)}) rotate(-90)`)
    .attr("text-anchor", "middle").attr("font-family", sans).attr("font-size", 13)
    .attr("fill", ink).text("Quadrature");

  // title
  const t = g.append("text").attr("x", cx).attr("y", p.top - 9)
    .attr("text-anchor", "middle").attr("font-family", serif).attr("font-size", 21.5).attr("fill", "#000");
  p.title.forEach(([s, bold]) => t.append("tspan").attr("font-weight", bold ? "bold" : "normal").text(s));

  // caption, centred on the page
  const c = g.append("text").attr("x", pageCenter).attr("y", y(-1.5) + 71)
    .attr("text-anchor", "middle").attr("fill", "#000");
  p.caption.forEach(([s, kind]) => c.append("tspan")
    .attr("font-family", kind === "sans" ? sans : serif)
    .attr("font-size", kind === "sans" ? 25.5 : 27)
    .attr("font-weight", kind === "bold" ? "bold" : "normal")
    .text(s));
});
</script>
</body></html>
